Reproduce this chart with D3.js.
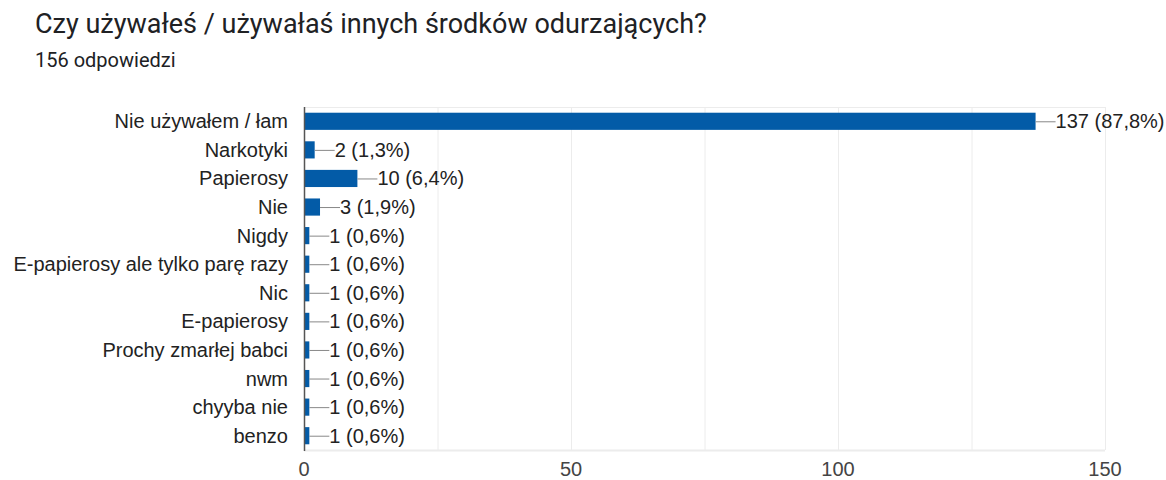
<!DOCTYPE html>
<html>
<head>
<meta charset="utf-8">
<script src="https://cdn.jsdelivr.net/npm/d3@7"></script>
<style>
  body { margin: 0; background: #fff; }
  svg { display: block; }
</style>
</head>
<body>
<script>
// chart data
const title = "Czy używałeś / używałaś innych środków odurzających?";
const subtitle = "156 odpowiedzi";
const total = 156;
const categories = ["Nie używałem / łam", "Narkotyki", "Papierosy", "Nie", "Nigdy",
    "E-papierosy ale tylko parę razy", "Nic", "E-papierosy", "Prochy zmarłej babci",
    "nwm", "chyyba nie", "benzo"];
const counts = [137, 2, 10, 3, 1, 1, 1, 1, 1, 1, 1, 1];
const labelTicks = [0, 50, 100, 150];
const gridTicks = [0, 25, 50, 75, 100, 125, 150];

const width = 1166, height = 480;
const margin = { top: 107, right: 61, bottom: 30, left: 304 };
const labelFont = "'Liberation Sans', Arial, sans-serif";

const svg = d3.select("body").append("svg")
    .attr("width", width)
    .attr("height", height);

svg.append("text")
    .attr("x", 35).attr("y", 33)
    .attr("font-family", "Roboto, 'Noto Sans', sans-serif")
    .attr("font-size", 27)
    .attr("fill", "#202124")
    .text(title);

svg.append("text")
    .attr("x", 35).attr("y", 67)
    .attr("font-family", "Roboto, 'Noto Sans', sans-serif")
    .attr("font-size", 20)
    .attr("fill", "#202124")
    .text(subtitle);

const x = d3.scaleLinear().domain([0, 150]).range([margin.left, width - margin.right]);
const y = d3.scaleBand().domain(categories).range([margin.top, 450]).paddingInner(0.4).paddingOuter(0.2);

// grid
svg.append("g")
    .selectAll("line")
    .data(gridTicks)
    .join("line")
    .attr("x1", d => x(d) + 0.5).attr("x2", d => x(d) + 0.5)
    .attr("y1", margin.top).attr("y2", 450)
    .attr("stroke", "#ececec");

svg.append("line")
    .attr("x1", x(0)).attr("x2", x(150))
    .attr("y1", margin.top + 0.5).attr("y2", margin.top + 0.5)
    .attr("stroke", "#ececec");
svg.append("line")
    .attr("x1", x(0)).attr("x2", x(150))
    .attr("y1", 450.5).attr("y2", 450.5)
    .attr("stroke", "#ececec").attr("stroke-width", 2);

// x tick labels
svg.append("g")
    .selectAll("text")
    .data(labelTicks)
    .join("text")
    .attr("x", d => x(d))
    .attr("y", 476)
    .attr("text-anchor", "middle")
    .attr("font-family", labelFont)
    .attr("font-size", 20)
    .attr("fill", "#444")
    .text(d => d);

// category labels
svg.append("g")
    .selectAll("text")
    .data(categories)
    .join("text")
    .attr("x", 288)
    .attr("y", d => y(d) + y.bandwidth() / 2)
    .attr("dy", "0.35em")
    .attr("text-anchor", "end")
    .attr("font-family", labelFont)
    .attr("font-size", 20)
    .attr("fill", "#222")
    .text(d => d);

// bars
svg.append("g")
    .selectAll("rect")
    .data(counts)
    .join("rect")
    .attr("x", x(0) + 1)
    .attr("y", (d, i) => y(categories[i]))
    .attr("width", d => x(d) - x(0) - 1)
    .attr("height", y.bandwidth())
    .attr("fill", "#035ba7");

// leader lines
svg.append("g")
    .selectAll("line")
    .data(counts)
    .join("line")
    .attr("x1", d => x(d))
    .attr("x2", d => x(d) + 20)
    .attr("y1", (d, i) => y(categories[i]) + y.bandwidth() / 2 + 0.5)
    .attr("y2", (d, i) => y(categories[i]) + y.bandwidth() / 2 + 0.5)
    .attr("stroke", "#888");

// value labels
svg.append("g")
    .selectAll("text")
    .data(counts)
    .join("text")
    .attr("x", d => x(d) + 20)
    .attr("y", (d, i) => y(categories[i]) + y.bandwidth() / 2)
    .attr("dy", "0.35em")
    .attr("font-family", labelFont)
    .attr("font-size", 20)
    .attr("fill", "#222")
    .text(d => d + " (" + (d / total * 100).toFixed(1).replace(".", ",") + "%)");

// zero axis
svg.append("line")
    .attr("x1", x(0) + 0.5).attr("x2", x(0) + 0.5)
    .attr("y1", margin.top).attr("y2", 451)
    .attr("stroke", "#555").attr("stroke-width", 1.5);
</script>
</body>
</html>
